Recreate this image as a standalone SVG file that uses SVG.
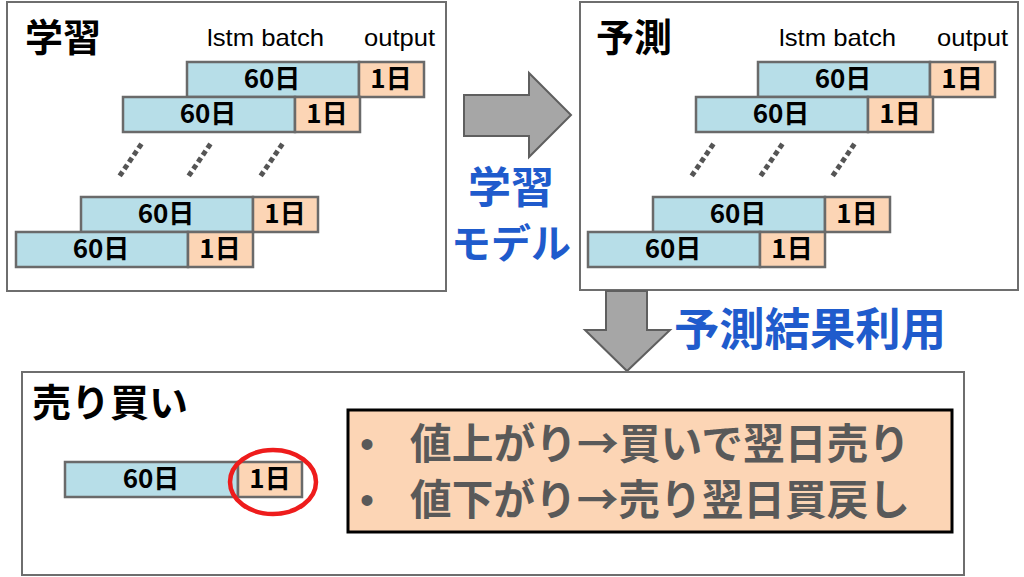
<svg xmlns="http://www.w3.org/2000/svg" width="1024" height="577" viewBox="0 0 1024 577">
<style>
.panel{fill:#fff;stroke:#6e6e6e;stroke-width:2}
.blue{fill:#b7dee8;stroke:#6a6a6a;stroke-width:2.5}
.peach{fill:#fcd5b5;stroke:#6a6a6a;stroke-width:2.5}
.bl{font-family:"Noto Sans CJK JP","Liberation Sans",sans-serif;font-weight:bold;font-size:26px;fill:#000;text-anchor:middle}
.title{font-family:"Noto Sans CJK JP",sans-serif;font-weight:bold;font-size:38px;fill:#000}
.hdr{font-family:"Liberation Sans","Noto Sans CJK JP",sans-serif;font-size:24px;fill:#000}
.lbl{font-family:"Noto Sans CJK JP",sans-serif;font-weight:bold;fill:#1f5bcc}
.dots{stroke:#555;stroke-width:5;stroke-linecap:square;stroke-dasharray:0.1 8.3;fill:none}
.arrow{fill:#a6a6a6;stroke:#5f5f5f;stroke-width:2}
.note{font-family:"Noto Sans CJK JP",sans-serif;font-weight:bold;font-size:42px;fill:#595959}
.bullet{font-family:"Liberation Sans",sans-serif;font-size:40px;fill:#595959;text-anchor:middle}
</style>
<defs>
<g id="bar">
<rect class="blue" x="0" y="0" width="172" height="35"/>
<rect class="peach" x="172" y="0" width="65" height="35"/>
<text class="bl" x="85" y="26">60日</text>
<text class="bl" x="204" y="26">1日</text>
</g>
<g id="dotset">
<line class="dots" x1="140" y1="146" x2="121" y2="174"/>
<line class="dots" x1="209" y1="146" x2="190" y2="174"/>
<line class="dots" x1="281" y1="146" x2="262" y2="174"/>
</g>
</defs>

<g id="learn">
<rect class="panel" x="7" y="2" width="439" height="289"/>
<text class="title" x="25" y="51">学習</text>
<text class="hdr" x="207" y="46" textLength="117" lengthAdjust="spacingAndGlyphs">lstm batch</text>
<text class="hdr" x="364" y="46" textLength="71" lengthAdjust="spacingAndGlyphs">output</text>
<use href="#bar" x="187" y="62"/>
<use href="#bar" x="123" y="97"/>
<use href="#dotset"/>
<use href="#bar" x="81" y="197"/>
<use href="#bar" x="16" y="232"/>
</g>

<g id="predict">
<rect class="panel" x="580" y="2" width="438" height="288"/>
<text class="title" x="596" y="51">予測</text>
<text class="hdr" x="779" y="46" textLength="117" lengthAdjust="spacingAndGlyphs">lstm batch</text>
<text class="hdr" x="937" y="46" textLength="71" lengthAdjust="spacingAndGlyphs">output</text>
<use href="#bar" x="758" y="62"/>
<use href="#bar" x="696" y="97"/>
<use href="#dotset" x="572"/>
<use href="#bar" x="653" y="197"/>
<use href="#bar" x="588" y="232"/>
</g>

<g id="connectors">
<polygon class="arrow" points="464,95 529,95 529,73 571,115 529,157 529,136 464,136"/>
<polygon class="arrow" points="606,291 647,291 647,330 670,330 627,371 585,330 606,330"/>
</g>

<g id="label-model">
<text class="lbl" x="511" y="203" font-size="43" text-anchor="middle">学習</text>
<text class="lbl" x="511" y="258" font-size="40" text-anchor="middle">モデル</text>
</g>

<g id="label-use">
<text class="lbl" x="674" y="346" font-size="45" textLength="272" lengthAdjust="spacingAndGlyphs">予測結果利用</text>
</g>

<g id="trade">
<rect class="panel" x="22" y="372" width="942" height="203"/>
<text class="title" x="32" y="416" textLength="156" lengthAdjust="spacingAndGlyphs">売り買い</text>
<rect class="blue" x="65" y="462" width="173" height="35"/>
<rect class="peach" x="238" y="462" width="64" height="35"/>
<text class="bl" x="151" y="488">60日</text>
<text class="bl" x="270" y="488">1日</text>
<ellipse cx="273" cy="482" rx="43" ry="32" fill="none" stroke="#ee1c1c" stroke-width="4.5"/>
</g>

<g id="note">
<rect x="348" y="410" width="604" height="122" fill="#fcd5b5" stroke="#000" stroke-width="3"/>
<text class="bullet" x="367" y="458">•</text>
<text class="bullet" x="367" y="514">•</text>
<text class="note" x="410" y="459" textLength="500" lengthAdjust="spacingAndGlyphs">値上がり→買いで翌日売り</text>
<text class="note" x="410" y="515" textLength="500" lengthAdjust="spacingAndGlyphs">値下がり→売り翌日買戻し</text>
</g>
</svg>
